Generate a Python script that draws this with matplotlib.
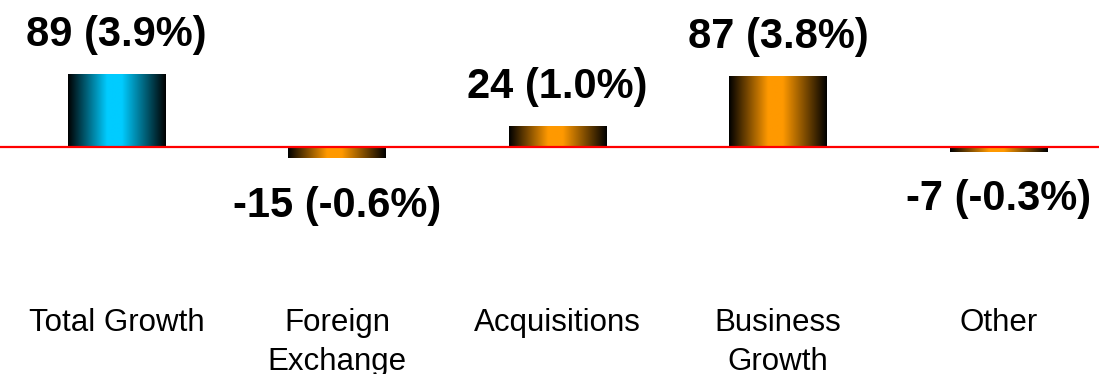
import matplotlib.pyplot as plt
import numpy as np
from matplotlib.colors import LinearSegmentedColormap

categories = ["Total Growth", "Foreign\nExchange", "Acquisitions", "Business\nGrowth", "Other"]
values = [89, -15, 24, 87, -7]
percents = [3.9, -0.6, 1.0, 3.8, -0.3]
bar_colors = ["#00CCFF", "#FF9900", "#FF9900", "#FF9900", "#FF9900"]


def shade_cmap(color):
    return LinearSegmentedColormap.from_list(
        "shade", [(0, "black"), (0.4, color), (0.55, color), (1, "black")]
    )


plt.rcParams["font.family"] = ["Liberation Sans", "DejaVu Sans"]

fig = plt.figure(figsize=(10.99, 3.74), dpi=100)
ax = fig.add_axes([0, 0, 1, 1])
ax.set_axis_off()

width = 0.44
grad = np.linspace(0, 1, 256).reshape(1, -1)
x = np.arange(len(values))

for xi, v, c, p in zip(x, values, bar_colors, percents):
    ax.imshow(
        grad,
        cmap=shade_cmap(c),
        extent=[xi - width / 2, xi + width / 2, min(0, v), max(0, v)],
        aspect="auto",
        interpolation="bilinear",
        zorder=2,
    )
    if v >= 0:
        off = 21
    else:
        off = -42
    ax.annotate(
        "{} ({:.1f}%)".format(v, p), (xi, v), xytext=(0, off),
        textcoords="offset points", ha="center", va="baseline",
        fontsize=30, fontweight="bold",
    )

for xi, name in zip(x, categories):
    ax.text(xi, 0.177, name, transform=ax.get_xaxis_transform(),
            ha="center", va="top", fontsize=22.5, linespacing=1.42)

ax.axhline(0, color="red", lw=1.6, zorder=3)

ax.set_xlim(-116.5 / 220.5, (1099 - 116.5) / 220.5)
ax.set_ylim(-(374 - 146.5) / 0.8, 146.5 / 0.8)

fig.savefig("out.png", dpi=100)
